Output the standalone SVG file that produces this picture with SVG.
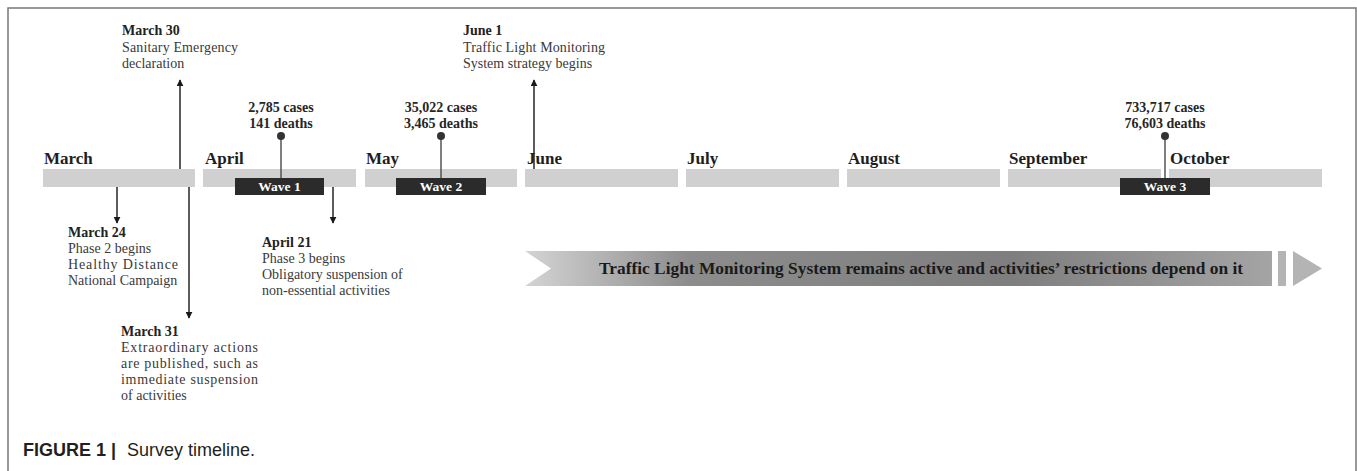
<svg xmlns="http://www.w3.org/2000/svg" width="1357" height="471" viewBox="0 0 1357 471">
<style>
.month{font-family:"Liberation Serif",serif;font-weight:bold;font-size:17px;fill:#1e1e1e}
.bar{fill:#d0d0d0}
.wave{fill:#2b2b2b}
.wt{font-family:"Liberation Serif",serif;font-weight:bold;font-size:13.5px;fill:#fff;text-anchor:middle}
.ttl{font-family:"Liberation Serif",serif;font-weight:bold;font-size:14px;fill:#222}
.body{font-family:"Liberation Serif",serif;font-size:14px;fill:#3a3a3a}
.stat{font-family:"Liberation Serif",serif;font-weight:bold;font-size:14px;fill:#262626;text-anchor:middle}
.arr{stroke:#262626;stroke-width:1.5;fill:none}
.stem{stroke:#555;stroke-width:1.5;fill:none}
.dot{fill:#333}
</style>
<defs>
<marker id="ah" viewBox="0 0 10 10" refX="9" refY="5" markerWidth="7" markerHeight="7" markerUnits="userSpaceOnUse" orient="auto">
<path d="M0,0 L10,5 L0,10 Z" fill="#1a1a1a"/>
</marker>
<linearGradient id="band" x1="0" y1="0" x2="1" y2="0">
<stop offset="0" stop-color="#d4d4d4"/>
<stop offset="0.22" stop-color="#8c8c8c"/>
<stop offset="0.65" stop-color="#7e7e7e"/>
<stop offset="1" stop-color="#a4a4a4"/>
</linearGradient>
</defs>
<rect width="1357" height="471" fill="#fff"/>
<path d="M8,471 L8,8 L1356,8 L1356,471" fill="none" stroke="#777" stroke-width="1.5"/>

<g id="months">
<rect class="bar" x="43" y="169" width="152" height="18"/>
<rect class="bar" x="203" y="169" width="153" height="18"/>
<rect class="bar" x="365" y="169" width="152" height="18"/>
<rect class="bar" x="525" y="169" width="153" height="18"/>
<rect class="bar" x="686" y="169" width="153" height="18"/>
<rect class="bar" x="847" y="169" width="153" height="18"/>
<rect class="bar" x="1008" y="169" width="153" height="18"/>
<rect class="bar" x="1169" y="169" width="153" height="18"/>
<text class="month" x="44" y="164">March</text>
<text class="month" x="205" y="164">April</text>
<text class="month" x="366" y="164">May</text>
<text class="month" x="527" y="164">June</text>
<text class="month" x="687" y="164">July</text>
<text class="month" x="848" y="164">August</text>
<text class="month" x="1009" y="164">September</text>
<text class="month" x="1170" y="164">October</text>
</g>

<g id="connectors">
<line class="arr" x1="180" y1="169" x2="180" y2="80" marker-end="url(#ah)"/>
<line class="arr" x1="534" y1="169" x2="534" y2="80" marker-end="url(#ah)"/>
<line class="arr" x1="117" y1="187" x2="117" y2="223" marker-end="url(#ah)"/>
<line class="arr" x1="189" y1="187" x2="189" y2="318" marker-end="url(#ah)"/>
<line class="arr" x1="333" y1="187" x2="333" y2="223" marker-end="url(#ah)"/>
<line class="stem" x1="281" y1="136" x2="281" y2="178"/>
<line class="stem" x1="441" y1="136" x2="441" y2="178"/>
<line class="stem" x1="1165" y1="136" x2="1165" y2="178"/>
<circle class="dot" cx="281" cy="136" r="4"/>
<circle class="dot" cx="441" cy="136" r="4"/>
<circle class="dot" cx="1165" cy="136" r="4"/>
</g>

<g id="wave1">
<rect class="wave" x="235" y="178" width="89" height="17"/>
<text class="wt" x="279.5" y="191">Wave 1</text>
</g>
<g id="wave2">
<rect class="wave" x="396" y="178" width="90" height="17"/>
<text class="wt" x="441" y="191">Wave 2</text>
</g>
<g id="wave3">
<rect class="wave" x="1120" y="178" width="90" height="17"/>
<text class="wt" x="1165" y="191">Wave 3</text>
</g>

<g id="stats1">
<text class="stat" x="281" y="112">2,785 cases</text>
<text class="stat" x="281" y="128">141 deaths</text>
</g>
<g id="stats2">
<text class="stat" x="441" y="112">35,022 cases</text>
<text class="stat" x="441" y="128">3,465 deaths</text>
</g>
<g id="stats3">
<text class="stat" x="1165" y="112">733,717 cases</text>
<text class="stat" x="1165" y="128">76,603 deaths</text>
</g>

<g id="march30">
<text class="ttl" x="122" y="35">March 30</text>
<text class="body" x="122" y="52" textLength="116" lengthAdjust="spacing">Sanitary Emergency</text>
<text class="body" x="122" y="68">declaration</text>
</g>
<g id="june1">
<text class="ttl" x="463" y="35">June 1</text>
<text class="body" x="463" y="52" textLength="142" lengthAdjust="spacing">Traffic Light Monitoring</text>
<text class="body" x="463" y="68">System strategy begins</text>
</g>
<g id="march24">
<text class="ttl" x="68" y="237">March 24</text>
<text class="body" x="68" y="253">Phase 2 begins</text>
<text class="body" x="68" y="269" textLength="110" lengthAdjust="spacing">Healthy Distance</text>
<text class="body" x="68" y="285">National Campaign</text>
</g>
<g id="march31">
<text class="ttl" x="121" y="336">March 31</text>
<text class="body" x="121" y="352" textLength="137" lengthAdjust="spacing">Extraordinary actions</text>
<text class="body" x="121" y="368" textLength="137" lengthAdjust="spacing">are published, such as</text>
<text class="body" x="121" y="384" textLength="137" lengthAdjust="spacing">immediate suspension</text>
<text class="body" x="121" y="400">of activities</text>
</g>
<g id="april21">
<text class="ttl" x="262" y="247">April 21</text>
<text class="body" x="262" y="263">Phase 3 begins</text>
<text class="body" x="262" y="279">Obligatory suspension of</text>
<text class="body" x="262" y="295">non-essential activities</text>
</g>

<g id="band">
<polygon points="525,251 1272,251 1272,286 525,286 551,268.5" fill="url(#band)"/>
<rect x="1278" y="251" width="8" height="35" fill="#b4b4b4"/>
<polygon points="1293,251 1322,268.5 1293,286" fill="#b4b4b4"/>
<text x="599" y="274" textLength="644" lengthAdjust="spacingAndGlyphs" font-family="Liberation Serif, serif" font-weight="bold" font-size="17" fill="#1a1a1a">Traffic Light Monitoring System remains active and activities’ restrictions depend on it</text>
</g>

<g id="caption">
<text x="23" y="456" font-family="Liberation Sans, Arial, sans-serif" font-size="18" fill="#231f20"><tspan font-weight="bold">FIGURE 1 |</tspan><tspan x="127">Survey timeline.</tspan></text>
</g>
</svg>
